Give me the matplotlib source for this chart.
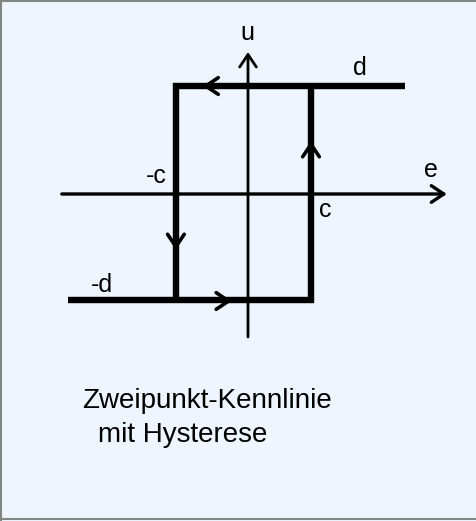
import matplotlib
matplotlib.use("Agg")
import matplotlib.pyplot as plt

plt.rcParams['font.family'] = ['Liberation Sans', 'DejaVu Sans']

# Data (e: input, u: output), units: c ~ 1, d ~ 1
upper_branch_e = [2.24, -1.03, -1.03]
upper_branch_u = [1.08, 1.08, -1.06]
lower_branch_e = [-2.57, 0.90, 0.90]
lower_branch_u = [-1.06, -1.06, 1.08]

# direction arrows: (tail e, tail u, head e, head u)
direction_arrows = [
    (-0.55, 1.08, -0.65, 1.08),   # upper branch, leftwards
    (-1.03, -0.35, -1.03, -0.56),  # left branch, downwards
    (-0.40, -1.07, -0.23, -1.07),  # lower branch, rightwards
    (0.90, 0.35, 0.90, 0.53),     # right branch, upwards
]

e_axis = (-2.66, 2.84)
u_axis = (-1.43, 1.42)

point_labels = ["u", "d", "-c", "e", "c", "-d"]
label_pos_e = [-0.01, 1.60, -1.31, 2.61, 1.11, -2.09]
label_pos_u = [1.54, 1.19, 0.11, 0.17, -0.23, -0.98]

title_lines = ["Zweipunkt-Kennlinie", "mit Hysterese"]

fig = plt.figure(figsize=(4.77, 5.21), dpi=100)
fig.patch.set_facecolor('#eef5fe')
fig.patch.set_edgecolor('none')
ax = fig.add_axes([0, 0, 1, 1])
ax.set_facecolor('#eef5fe')
# pixel x = 248 + 70*e ; pixel y = 194 - 100*u
ax.set_xlim(-248 / 70, (477 - 248) / 70)
ax.set_ylim(-(521 - 194) / 100, 194 / 100)
ax.axis('off')

arrow_style = '->,head_length=0.45,head_width=0.3'

# coordinate axes
ax.annotate('', xy=(e_axis[1], 0), xytext=(e_axis[0], 0),
            arrowprops=dict(arrowstyle=arrow_style, lw=2.4, color='black',
                            mutation_scale=20, shrinkA=0, shrinkB=0))
ax.annotate('', xy=(0, u_axis[1]), xytext=(0, u_axis[0]),
            arrowprops=dict(arrowstyle=arrow_style, lw=2.0, color='black',
                            mutation_scale=20, shrinkA=0, shrinkB=0))

# hysteresis loop
ax.plot(upper_branch_e, upper_branch_u, color='black', lw=4.6,
        solid_joinstyle='miter', solid_capstyle='butt')
ax.plot(lower_branch_e, lower_branch_u, color='black', lw=4.6,
        solid_joinstyle='miter', solid_capstyle='butt')

for (te, tu, he, hu) in direction_arrows:
    ax.annotate('', xy=(he, hu), xytext=(te, tu),
                arrowprops=dict(arrowstyle=arrow_style, lw=2.6, color='black',
                                mutation_scale=20, shrinkA=0, shrinkB=0))

for lab, le, lu in zip(point_labels, label_pos_e, label_pos_u):
    ax.text(le, lu, lab, fontsize=18, ha='center', va='baseline', color='black')

ax.text(82 / 477, 1 - 408 / 521, title_lines[0], transform=fig.transFigure,
        fontsize=20, ha='left', va='baseline', color='black')
ax.text(98 / 477, 1 - 442 / 521, title_lines[1], transform=fig.transFigure,
        fontsize=20, ha='left', va='baseline', color='black')

# gray frame (left, top, bottom)
frame_color = '#858585'
fig.add_artist(plt.Line2D([1 / 477, 1 / 477], [0, 1], transform=fig.transFigure,
                          color=frame_color, lw=1.5))
fig.add_artist(plt.Line2D([0, 1], [1 - 1 / 521, 1 - 1 / 521], transform=fig.transFigure,
                          color=frame_color, lw=1.5))
fig.add_artist(plt.Line2D([0, 1], [2 / 521, 2 / 521], transform=fig.transFigure,
                          color=frame_color, lw=1.5))

fig.savefig('out.png', dpi=100, facecolor=fig.get_facecolor(), edgecolor='none')
